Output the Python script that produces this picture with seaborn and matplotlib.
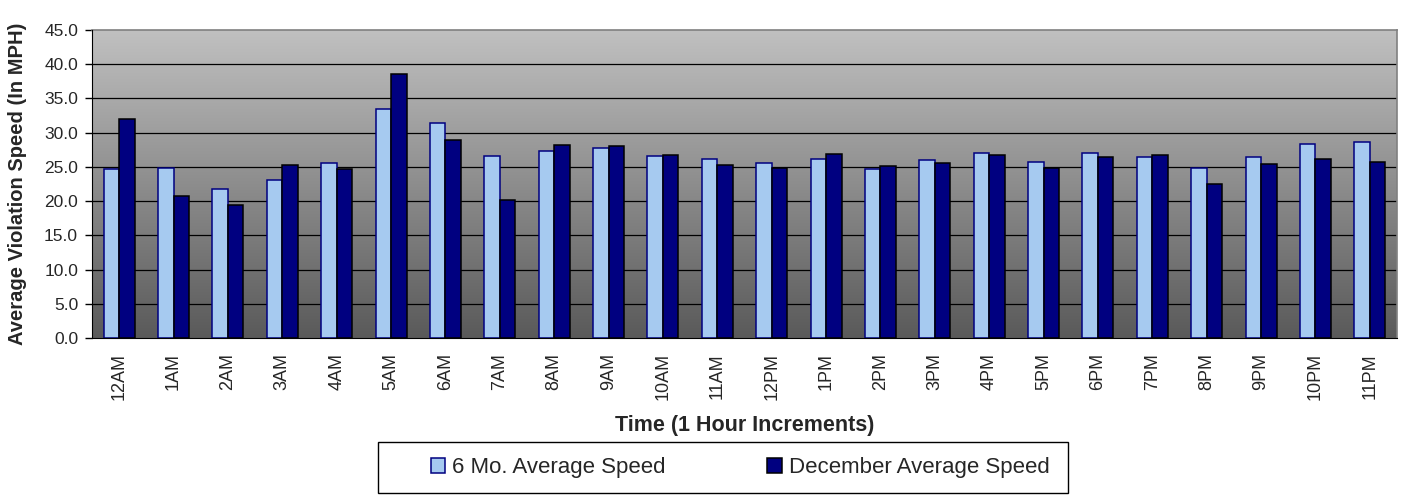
import numpy as np
import pandas as pd
import matplotlib
matplotlib.use("Agg")
import matplotlib.pyplot as plt
from matplotlib.colors import LinearSegmentedColormap
from matplotlib.patches import Patch, Rectangle
import seaborn as sns

hours = ["12AM", "1AM", "2AM", "3AM", "4AM", "5AM", "6AM", "7AM", "8AM", "9AM",
         "10AM", "11AM", "12PM", "1PM", "2PM", "3PM", "4PM", "5PM", "6PM", "7PM",
         "8PM", "9PM", "10PM", "11PM"]
six_month_avg = [24.7, 24.8, 21.7, 23.1, 25.6, 33.4, 31.4, 26.6, 27.3, 27.7,
                 26.6, 26.1, 25.6, 26.1, 24.7, 26.0, 27.0, 25.7, 27.0, 26.5,
                 24.8, 26.4, 28.3, 28.7]
december_avg = [32.0, 20.8, 19.5, 25.3, 24.7, 38.6, 28.9, 20.1, 28.2, 28.1,
                26.8, 25.3, 24.9, 26.9, 25.1, 25.5, 26.7, 24.8, 26.4, 26.7,
                22.5, 25.4, 26.1, 25.7]
series_names = ["6 Mo. Average Speed", "December Average Speed"]
y_ticks = np.arange(0, 45.1, 5)

df = pd.DataFrame({
    "hour": hours * 2,
    "speed": six_month_avg + december_avg,
    "series": [series_names[0]] * len(hours) + [series_names[1]] * len(hours),
})

sns.set_style("white")
plt.rcParams["font.family"] = ["Liberation Sans", "DejaVu Sans"]

fill_colors = ["#A6CAF0", "#000080"]
edge_colors = ["#000080", "#000000"]

W, H = 1401, 495
fig = plt.figure(figsize=(W / 100, H / 100), dpi=100)
ax = fig.add_axes([92 / W, 1 - 338 / H, (1397 - 92) / W, (338 - 30) / H])

sns.barplot(data=df, x="hour", y="speed", hue="series", order=hours,
            hue_order=series_names, palette=fill_colors, width=0.57, gap=0,
            saturation=1, ax=ax, legend=False, zorder=3)
for cont, ec in zip(ax.containers, edge_colors):
    for bar in cont:
        bar.set_edgecolor(ec)
        bar.set_linewidth(1.1)

ax.set_xlim(-0.5, len(hours) - 0.5)
ax.set_ylim(0, 45)

# vertical gray gradient behind the bars
cmap = LinearSegmentedColormap.from_list("bg", ["#5A5A5A", "#C0C0C0"])
grad = np.linspace(0, 1, 256).reshape(-1, 1)
ax.imshow(grad, extent=[-0.5, len(hours) - 0.5, 0, 45], origin="lower",
          aspect="auto", cmap=cmap, zorder=0)

ax.set_yticks(y_ticks)
ax.set_yticklabels([f"{v:.1f}" for v in y_ticks], fontsize=12.5)
for v in y_ticks[1:-1]:
    ax.axhline(v, color="black", linewidth=0.9, zorder=1)

# category ticks sit between the groups
ax.set_xticks(np.arange(len(hours)))
ax.set_xticklabels(hours, rotation=90, fontsize=13)
ax.set_xticks(np.arange(-0.5, len(hours)), minor=True)
ax.tick_params(axis="x", which="major", length=0, pad=11)
ax.tick_params(axis="x", which="minor", length=5, width=1, color="black", direction="out")
ax.tick_params(axis="y", length=5, width=1, color="black", direction="out", left=True, pad=5)

for side in ["top", "right"]:
    ax.spines[side].set_visible(True)
    ax.spines[side].set_color("#808080")
    ax.spines[side].set_linewidth(1.2)
ax.spines["left"].set_color("black")
ax.spines["bottom"].set_color("black")
ax.spines["left"].set_zorder(4)
ax.spines["bottom"].set_zorder(4)

ax.set_xlabel("Time (1 Hour Increments)", fontsize=15.5, fontweight="bold")
ax.xaxis.label.set_va("center")
ax.xaxis.set_label_coords(0.5, (338 - 426) / 308)
ax.set_ylabel("Average Violation Speed (In MPH)", fontsize=14.5, fontweight="bold")
ax.yaxis.label.set_va("center")
ax.yaxis.set_label_coords((18 - 92) / 1305, 0.5)

# legend frame and entries below the plot
fig.patches.append(Rectangle((378 / W, 1 - 493 / H), (1068 - 378) / W, (493 - 442) / H,
                             transform=fig.transFigure, facecolor="white",
                             edgecolor="black", linewidth=1.0))
handles = [Patch(facecolor=fc, edgecolor=ec, linewidth=1.1) for fc, ec in zip(fill_colors, edge_colors)]
leg = fig.legend(handles, series_names, loc="center", bbox_to_anchor=(740 / W, 1 - 468 / H),
                 ncol=2, frameon=False, fontsize=16, handlelength=0.65,
                 handleheight=0.65, handletextpad=0.3, columnspacing=4.6,
                 borderpad=0, borderaxespad=0)

fig.savefig("out.png", dpi=100)
